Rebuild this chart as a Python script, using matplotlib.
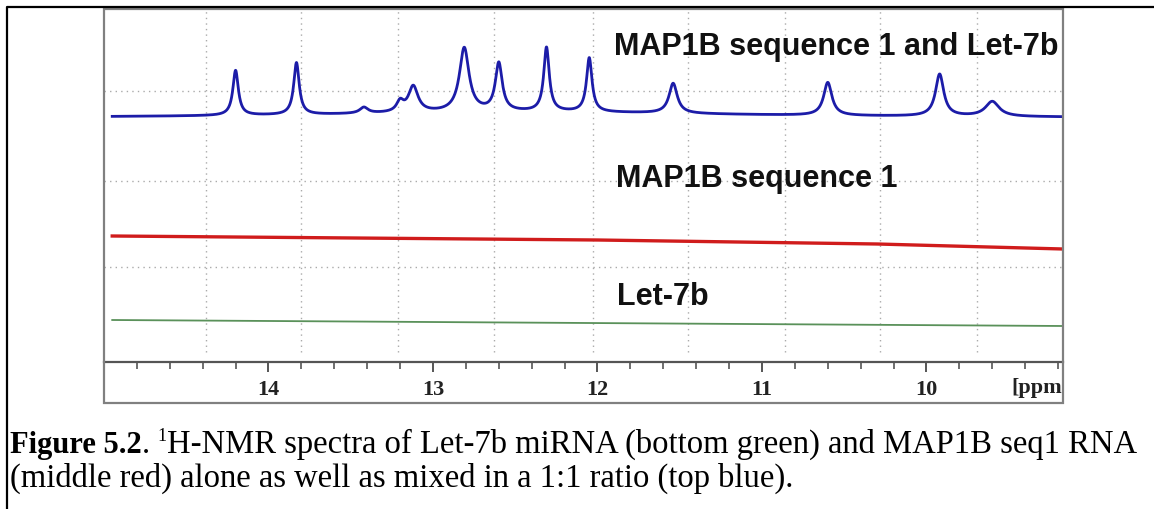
import matplotlib
matplotlib.use("Agg")
import matplotlib.pyplot as plt
import numpy as np
from matplotlib.patches import Rectangle
from matplotlib.lines import Line2D

# data
ppm_ticks = [14, 13, 12, 11, 10]
grid_ppm = [14.38, 13.80, 13.21, 12.63, 12.03, 11.45, 10.86, 10.28, 9.69]
grid_y = [95, 181, 271]

# top trace (mix): imino peaks, position / height / half width
peak_ppm = [14.20, 13.83, 13.42, 13.20, 13.12, 12.81, 12.60, 12.31, 12.05, 11.54, 10.60, 9.92, 9.60]
peak_h = [45, 52, 6, 10, 26, 64, 48, 64, 54, 30, 33, 42, 15]
peak_w = [0.02, 0.02, 0.03, 0.025, 0.035, 0.035, 0.025, 0.02, 0.02, 0.03, 0.03, 0.03, 0.05]
blue_offset = 244
hump = (12.4, 6, 1.5)   # broad envelope under the imino region

red_ppm = [14.95, 12.0, 10.3, 9.17]
red_y = [126, 122, 118, 113]
green_ppm = [14.95, 9.17]
green_y = [42, 36]

W, H = 1154, 510
fig = plt.figure(figsize=(W / 100, H / 100), dpi=100)

def fx(px):
    return px / W

def fy(py):
    return 1 - py / H

# outer caption frame (left and top edges only visible)
fig.add_artist(Line2D([fx(7), fx(7), 1.0], [0.0, fy(8), fy(8)], color="black", lw=1.6,
                      transform=fig.transFigure))
# grey border of the pasted spectrum
fig.add_artist(Rectangle((fx(104), fy(404)), fx(1063) - fx(104), fy(10) - fy(404),
                         fill=False, edgecolor="#808080", lw=1.6, transform=fig.transFigure))

ax = fig.add_axes([fx(104), fy(363), fx(1063) - fx(104), fy(10) - fy(363)])
ax.set_xlim(14.95, 9.17)
ax.set_ylim(0, 353)

# grid
for g in grid_ppm:
    ax.axvline(g, ymin=10 / 353, ymax=1, color="#aaaaaa", lw=1.0, linestyle=(0, (1, 3)), zorder=0)
for g in grid_y:
    ax.axhline(g, color="#aaaaaa", lw=1.0, linestyle=(0, (1, 3)), zorder=0)

# spectra
x = np.linspace(14.95, 9.17, 4000)
blue = blue_offset + hump[1] / (1 + ((x - hump[0]) / hump[2]) ** 2)
for p, h, w in zip(peak_ppm, peak_h, peak_w):
    blue = blue + h / (1 + ((x - p) / w) ** 2)
ax.plot(x, blue, color="#1c1ca8", lw=2.0, solid_joinstyle="round")
ax.plot(red_ppm, red_y, color="#d01c1c", lw=2.4)
ax.plot(green_ppm, green_y, color="#5a915a", lw=1.3)

# labels in the panel
lab = dict(fontfamily="Liberation Sans", fontweight="bold", fontsize=22, color="#111111",
           ha="left", va="baseline", clip_on=True)
ax.text(11.90, 308, "MAP1B sequence 1 and Let-7b", **lab)
ax.text(11.89, 176, "MAP1B sequence 1", **lab)
ax.text(11.88, 58, "Let-7b", **lab)

# axes styling
for s in ["top", "left", "right"]:
    ax.spines[s].set_visible(False)
ax.spines["bottom"].set_color("#555555")
ax.spines["bottom"].set_linewidth(1.6)
ax.set_yticks([])
ax.set_xticks(ppm_ticks)
ax.set_xticks(np.arange(9.2, 15.0, 0.2), minor=True)
ax.set_xticklabels([str(t) for t in ppm_ticks], fontfamily="Liberation Serif",
                   fontweight="bold", fontsize=16, color="#222222")
ax.tick_params(axis="x", which="major", direction="out", length=7, width=1.4,
               color="#555555", pad=5)
ax.tick_params(axis="x", which="minor", direction="out", length=5, width=1.2,
               color="#555555")
ax.text(9.175, -25 / 353, "[ppm", transform=ax.get_xaxis_transform(), ha="right",
        va="center", fontfamily="Liberation Serif", fontweight="bold", fontsize=16,
        color="#222222")

# caption, drawn piece by piece
fig.canvas.draw()
renderer = fig.canvas.get_renderer()
serif = "Liberation Serif"

def caption_line(pieces, x0, base):
    xp = x0
    for txt, weight, size, dy in pieces:
        t = fig.text(xp / W, fy(base + dy), txt, fontfamily=serif, fontweight=weight,
                     fontsize=size, ha="left", va="baseline", color="black")
        bb = t.get_window_extent(renderer)
        xp += bb.width

caption_line([("Figure 5.2", "bold", 22, 0), (". ", "normal", 23.5, 0),
              ("1", "normal", 13, -12),
              ("H-NMR spectra of Let-7b miRNA (bottom green) and MAP1B seq1 RNA", "normal", 23.5, 0)],
             10, 453)
caption_line([("(middle red) alone as well as mixed in a 1:1 ratio (top blue).", "normal", 23.5, 0)],
             10, 487)

fig.savefig("out.png", dpi=100)
